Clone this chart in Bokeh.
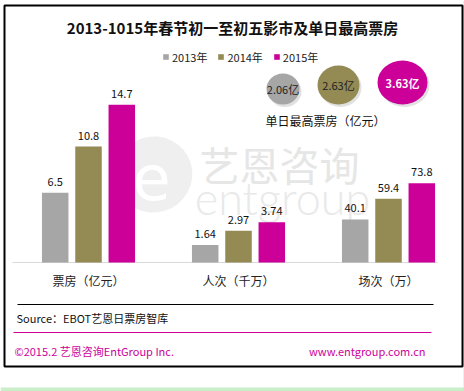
from bokeh.plotting import figure
from bokeh.models import Range1d, ColumnDataSource, Legend, LegendItem
from bokeh.transform import dodge
from bokeh.core.properties import value
from bokeh.embed import file_html
from bokeh.resources import INLINE

# ---------------- data ----------------
title_text = "2013-1015年春节初一至初五影市及单日最高票房"
groups = ["票房（亿元）", "人次（千万）", "场次（万）"]
years = ["2013年", "2014年", "2015年"]
v2013 = [6.5, 1.64, 40.1]
v2014 = [10.8, 2.97, 59.4]
v2015 = [14.7, 3.74, 73.8]
group_scale = [1, 1, 0.1]  # 场次 is drawn in units of 十万 on the shared axis
peak_values = [2.06, 2.63, 3.63]
peak_labels = ["2.06亿", "2.63亿", "3.63亿"]
peak_title = "单日最高票房（亿元）"
source_text = "Source：EBOT艺恩日票房智库"
copyright_text = "©2015.2  艺恩咨询EntGroup Inc."
url_text = "www.entgroup.com.cn"

# ---------------- style ----------------
FONT_NAME = "Noto Sans CJK SC"
FONT = value(FONT_NAME)
COLORS = ["#a6a6a6", "#948a54", "#cc0099"]
W, H = 464, 391
PX_PER_GROUP = 150.0
PX_PER_UNIT = 10.73
G0_X = 88      # page x of first group centre
BASE_Y = 262   # page y of the bar baseline

p = figure(width=W, height=H,
           x_range=Range1d(-G0_X / PX_PER_GROUP, (W - G0_X) / PX_PER_GROUP),
           y_range=Range1d(-(H - BASE_Y) / PX_PER_UNIT, BASE_Y / PX_PER_UNIT),
           x_axis_type=None, y_axis_type=None,
           output_backend="svg", toolbar_location=None, min_border=0,
           outline_line_color=None,
           background_fill_color="white", border_fill_color="white")
p.xgrid.visible = False
p.ygrid.visible = False
# page-pixel helper ranges (y inverted: top of page at top)
p.extra_x_ranges = {"px": Range1d(0, W)}
p.extra_y_ranges = {"py": Range1d(H, 0)}
PX = dict(x_range_name="px", y_range_name="py")

# ---------------- page decoration ----------------
p.quad(left=[0], right=[W], top=[387], bottom=[H], fill_color="#c9eec9", line_color=None, **PX)
p.quad(left=[463], right=[W], top=[0], bottom=[H], fill_color="#c9eec9", line_color=None, **PX)
p.quad(left=[4], right=[462], top=[5], bottom=[366], fill_color=None,
       line_color="black", line_width=2, **PX)

# ---------------- watermark ----------------
p.ellipse(x=[153], y=[174], width=[78], height=[76], angle=0.3,
          fill_color="#efefef", line_color=None, **PX)
p.text(x=[151], y=[176], text=["e"], text_font=value("DejaVu Sans"),
       text_font_size="62px", text_color="white", text_align="center",
       text_baseline="middle", **PX)
p.text(x=[279], y=[163], text=["艺恩咨询"], text_font=FONT, text_font_size="40px",
       text_color="#e6e6e6", text_align="center", text_baseline="middle", **PX)
p.text(x=[282], y=[197], text=["entgroup"], text_font=value("Lato Light, Lato"),
       text_font_size="45px", text_color="#e9e9e9", text_align="center",
       text_baseline="middle", **PX)

# ---------------- bars ----------------
heights = [[v * s for v, s in zip(vals, group_scale)] for vals in (v2013, v2014, v2015)]
labels = [[f"{v:g}" for v in vals] for vals in (v2013, v2014, v2015)]
src = ColumnDataSource(dict(
    x=list(range(len(groups))),
    h0=heights[0], h1=heights[1], h2=heights[2],
    l0=labels[0], l1=labels[1], l2=labels[2],
))
offsets = [-33.3 / PX_PER_GROUP, 0.0, 33.3 / PX_PER_GROUP]
bar_w = 26.5 / PX_PER_GROUP

# axis baseline
p.segment(x0=[12], x1=[437], y0=[BASE_Y], y1=[BASE_Y], line_color="#d9d9d9",
          line_width=1.2, **PX)

bar_renderers = []
for i in range(3):
    r = p.vbar(x=dodge("x", offsets[i], range=p.x_range), top=f"h{i}", width=bar_w,
               bottom=0, source=src, fill_color=COLORS[i], line_color=None)
    bar_renderers.append(r)
    p.text(x=dodge("x", offsets[i], range=p.x_range), y=f"h{i}", text=f"l{i}",
           source=src, y_offset=-11, text_align="center", text_baseline="alphabetic",
           text_font=FONT, text_font_size="11px", text_color="#111111")

# category labels
cat_src = ColumnDataSource(dict(x=list(range(len(groups))), y=[280] * len(groups), t=groups))
p.text(x="x", y="y", text="t", source=cat_src, y_range_name="py",
       text_align="center", text_baseline="middle",
       text_font=FONT, text_font_size="12px", text_color="#222222")

# ---------------- legend ----------------
legend = Legend(items=[LegendItem(label=years[i], renderers=[bar_renderers[i]]) for i in range(3)],
                orientation="horizontal", location=(162, H - 64.5),
                glyph_width=7, glyph_height=7, label_height=12, label_width=20,
                label_standoff=3, spacing=10, padding=0, margin=0,
                border_line_color=None, background_fill_alpha=0,
                label_text_font=FONT_NAME, label_text_font_size="11px",
                label_text_color="#222222")
p.add_layout(legend)

# ---------------- peak bubbles ----------------
bub_w = [33, 42, 50]
bub_h = [31, 39, 44]
bx, acc = [], 266.0
for i, w in enumerate(bub_w):
    bx.append(acc + w / 2)
    acc += w + 18
by = [104 - h / 2 for h in bub_h]
bsrc = ColumnDataSource(dict(x=bx, y=by, w=bub_w, h=bub_h, c=COLORS, t=peak_labels,
                             sx=[x + 2 for x in bx], sy=[y + 2.5 for y in by]))
p.ellipse(x="sx", y="sy", width="w", height="h", source=bsrc,
          fill_color="#888888", fill_alpha=0.25, line_color=None, **PX)
p.ellipse(x="x", y="y", width="w", height="h", source=bsrc,
          fill_color="c", line_color=None, **PX)
tsrc_dark = ColumnDataSource(dict(x=bx[:2], y=by[:2], t=peak_labels[:2]))
p.text(x="x", y="y", text="t", source=tsrc_dark, text_align="center",
       text_baseline="middle", text_font=FONT, text_font_size="11px",
       text_color="#222222", **PX)
tsrc_light = ColumnDataSource(dict(x=bx[2:], y=by[2:], t=peak_labels[2:]))
p.text(x="x", y="y", text="t", source=tsrc_light, text_align="center",
       text_baseline="middle", text_font=FONT, text_font_size="11px",
       text_font_style="bold", text_color="white", **PX)
p.text(x=[325], y=[120], text=[peak_title], text_align="center", text_baseline="middle",
       text_font=FONT, text_font_size="12px", text_color="#111111", **PX)

# ---------------- title ----------------
p.text(x=[232], y=[27], text=[title_text], text_align="center", text_baseline="middle",
       text_font=FONT, text_font_size="15px", text_font_style="bold",
       text_color="#111111", **PX)

# ---------------- footer ----------------
p.segment(x0=[17], x1=[433], y0=[304], y1=[304], line_color="black", line_width=1, **PX)
p.text(x=[16], y=[317], text=[source_text], text_align="left", text_baseline="middle",
       text_font=FONT, text_font_size="11px", text_color="#111111", **PX)
p.segment(x0=[13], x1=[431], y0=[332], y1=[332], line_color="#cc0099", line_width=1, **PX)
p.text(x=[14], y=[350], text=[copyright_text], text_align="left", text_baseline="middle",
       text_font=FONT, text_font_size="11px", text_color="#cc0099", **PX)
p.text(x=[425], y=[350], text=[url_text], text_align="right", text_baseline="middle",
       text_font=FONT, text_font_size="11px", text_color="#cc0099", **PX)

open("out.html", "w").write(file_html(p, INLINE))
